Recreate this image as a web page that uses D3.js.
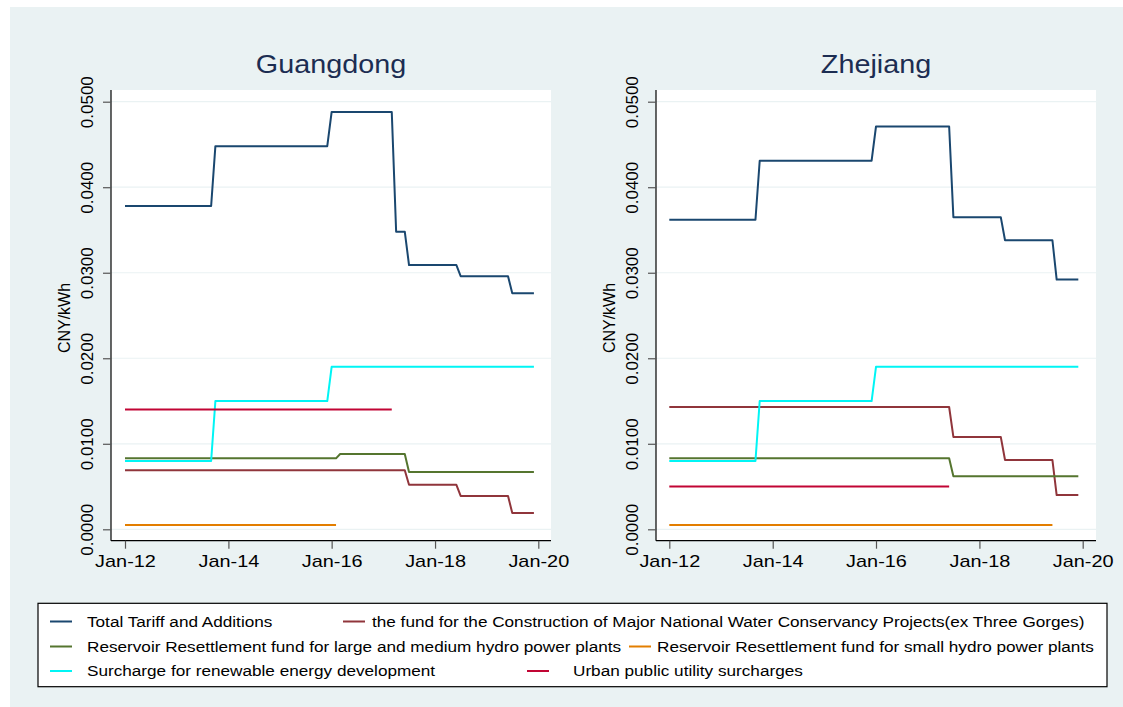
<!DOCTYPE html>
<html><head><meta charset="utf-8">
<script src="https://cdn.jsdelivr.net/npm/d3@7"></script>
<style>body{margin:0;background:#fff} text{font-family:"Liberation Sans",Arial,Helvetica,sans-serif}</style>
</head><body><svg id="c" width="1123" height="707"></svg>
<script>
// ---------- data ----------
const panelTitles = ["Guangdong", "Zhejiang"];
const yTicks = [0, 0.01, 0.02, 0.03, 0.04, 0.05];
const yTickLabels = ["0.0000", "0.0100", "0.0200", "0.0300", "0.0400", "0.0500"];
const xTickDates = ["2012-01", "2014-01", "2016-01", "2018-01", "2020-01"];
const xTickLabels = ["Jan-12", "Jan-14", "Jan-16", "Jan-18", "Jan-20"];
const yAxisTitle = "CNY/kWh";
const seriesNames = [
  "Total Tariff and Additions",
  "the fund for the Construction of Major National Water Conservancy Projects(ex Three Gorges)",
  "Reservoir Resettlement fund for large and medium hydro power plants",
  "Reservoir Resettlement fund for small hydro power plants",
  "Surcharge for renewable energy development",
  "Urban public utility surcharges"
];
const seriesColors = ["#1a476f", "#90353b", "#55752f", "#e37e00", "#00f5f5", "#c10534"];

// Guangdong (vertices of the monthly step series: [month, CNY/kWh])
const gdTotal = [["2012-01",0.0378],["2013-09",0.0378],["2013-10",0.0448],["2015-12",0.0448],["2016-01",0.0488],
  ["2017-03",0.0488],["2017-04",0.0348],["2017-06",0.0348],["2017-07",0.0309],["2018-06",0.0309],["2018-07",0.0296],
  ["2019-06",0.0296],["2019-07",0.0276],["2019-12",0.0276]];
const gdWaterFund = [["2012-01",0.0069],["2017-06",0.0069],["2017-07",0.0052],["2018-06",0.0052],["2018-07",0.0039],
  ["2019-06",0.0039],["2019-07",0.0019],["2019-12",0.0019]];
const gdLargeHydro = [["2012-01",0.0083],["2016-02",0.0083],["2016-03",0.0088],["2017-06",0.0088],["2017-07",0.0067],["2019-12",0.0067]];
const gdSmallHydro = [["2012-01",0.0005],["2016-02",0.0005]];
const gdRenewable = [["2012-01",0.0080],["2013-09",0.0080],["2013-10",0.0150],["2015-12",0.0150],["2016-01",0.0190],["2019-12",0.0190]];
const gdUrban = [["2012-01",0.0140],["2017-03",0.0140]];

// Zhejiang
const zjTotal = [["2012-01",0.0362],["2013-09",0.0362],["2013-10",0.0431],["2015-12",0.0431],["2016-01",0.0471],
  ["2017-06",0.0471],["2017-07",0.0365],["2018-06",0.0365],["2018-07",0.0338],["2019-06",0.0338],["2019-07",0.0292],["2019-12",0.0292]];
const zjWaterFund = [["2012-01",0.0143],["2017-06",0.0143],["2017-07",0.0108],["2018-06",0.0108],["2018-07",0.0081],
  ["2019-06",0.0081],["2019-07",0.0040],["2019-12",0.0040]];
const zjLargeHydro = [["2012-01",0.0083],["2017-06",0.0083],["2017-07",0.0062],["2019-12",0.0062]];
const zjSmallHydro = [["2012-01",0.0005],["2019-06",0.0005]];
const zjRenewable = [["2012-01",0.0080],["2013-09",0.0080],["2013-10",0.0150],["2015-12",0.0150],["2016-01",0.0190],["2019-12",0.0190]];
const zjUrban = [["2012-01",0.0050],["2017-06",0.0050]];

const panelSeries = [
  [gdTotal, gdWaterFund, gdLargeHydro, gdSmallHydro, gdRenewable, gdUrban],
  [zjTotal, zjWaterFund, zjLargeHydro, zjSmallHydro, zjRenewable, zjUrban]
];

// ---------- layout ----------
const SX = 1.17; // horizontal text stretch of the original
const parse = d3.timeParse("%Y-%m");
const svg = d3.select("#c");
const FONT = '"Liberation Sans",Arial,sans-serif';

svg.append("rect").attr("x", 10).attr("y", 7).attr("width", 1113).attr("height", 700).attr("fill", "#eaf2f3");

function stretchedText(g, x, yy, str, size, sx, color) {
  return g.append("text")
    .attr("transform", `translate(${x},${yy}) scale(${sx},1)`)
    .attr("font-size", size).attr("fill", color || "#000")
    .text(str);
}

const panels = [
  { left: 111, right: 551, xr: [125, 538.3] },
  { left: 656, right: 1096, xr: [669.3, 1082.7] }
];
const plotTop = 90, plotBottom = 540.7;
const yScale = d3.scaleLinear().domain([0, 0.05]).range([529.3, 101.7]);

panels.forEach((p, pi) => {
  const g = svg.append("g");
  const x = d3.scaleTime().domain([parse("2012-01"), parse("2020-01")]).range(p.xr);

  g.append("rect").attr("x", p.left).attr("y", plotTop).attr("width", p.right - p.left).attr("height", plotBottom - plotTop).attr("fill", "#fff");

  // gridlines
  g.selectAll(".grid").data(yTicks).enter().append("line")
    .attr("x1", p.left).attr("x2", p.right)
    .attr("y1", d => yScale(d)).attr("y2", d => yScale(d))
    .attr("stroke", "#eaf2f3").attr("stroke-width", 1.2);

  // y axis
  const ya = g.append("g").attr("transform", `translate(${p.left},0)`)
    .call(d3.axisLeft(yScale).tickValues(yTicks).tickSize(8).tickFormat((d, i) => yTickLabels[i]));
  ya.select(".domain").attr("d", `M0,${plotTop}V${plotBottom}`).attr("stroke", "#000").attr("stroke-width", 1.2);
  ya.selectAll(".tick line").attr("stroke", "#555").attr("stroke-width", 1.2);
  ya.selectAll(".tick text")
    .attr("x", null).attr("dy", null)
    .attr("transform", "translate(-18,0) rotate(-90)")
    .attr("text-anchor", "middle")
    .attr("font-size", 17).attr("font-family", FONT).attr("fill", "#000");

  // x axis
  const xa = g.append("g").attr("transform", `translate(0,${plotBottom})`)
    .call(d3.axisBottom(x).tickValues(xTickDates.map(parse)).tickSize(8).tickFormat((d, i) => xTickLabels[i]));
  xa.select(".domain").attr("d", `M${p.left},0H${p.right}`).attr("stroke", "#000").attr("stroke-width", 1.2);
  xa.selectAll(".tick line").attr("stroke", "#555").attr("stroke-width", 1.2);
  xa.selectAll(".tick text")
    .attr("y", null).attr("dy", null)
    .attr("transform", `translate(0,26.5) scale(${SX},1)`)
    .attr("font-size", 17).attr("font-family", FONT).attr("fill", "#000");

  // y title
  g.append("text")
    .attr("transform", `translate(${p.left - 41},318) rotate(-90)`)
    .attr("text-anchor", "middle").attr("font-size", 16).attr("fill", "#000")
    .text(yAxisTitle);

  // panel title
  g.append("text")
    .attr("transform", `translate(${(p.left + p.right) / 2},73.3) scale(1.15,1)`)
    .attr("text-anchor", "middle").attr("font-size", 25).attr("fill", "#1c2d52")
    .text(panelTitles[pi]);

  // series
  const line = d3.line().x(d => x(parse(d[0]))).y(d => yScale(d[1]));
  panelSeries[pi].forEach((s, si) => {
    g.append("path").attr("d", line(s)).attr("fill", "none")
      .attr("stroke", seriesColors[si]).attr("stroke-width", 2)
      .attr("stroke-linejoin", "round");
  });
});

// ---------- legend ----------
const legendPos = [
  { dx: 50, tx: 87, y: 621.5 },
  { dx: 343, tx: 372, y: 621.5 },
  { dx: 50, tx: 87, y: 646.5 },
  { dx: 629, tx: 657, y: 646.5 },
  { dx: 50, tx: 87, y: 671 },
  { dx: 527, tx: 573, y: 671 }
];
const lg = svg.append("g");
lg.append("rect").attr("x", 38).attr("y", 603.3).attr("width", 1069).attr("height", 83.4)
  .attr("fill", "#fff").attr("stroke", "#000").attr("stroke-width", 1.2);
seriesNames.forEach((n, i) => {
  const p = legendPos[i];
  lg.append("line").attr("x1", p.dx).attr("x2", p.dx + 22).attr("y1", p.y).attr("y2", p.y)
    .attr("stroke", seriesColors[i]).attr("stroke-width", 2);
  stretchedText(lg, p.tx, p.y + 5, n, 14.5, 1.185);
});
</script></body></html>
